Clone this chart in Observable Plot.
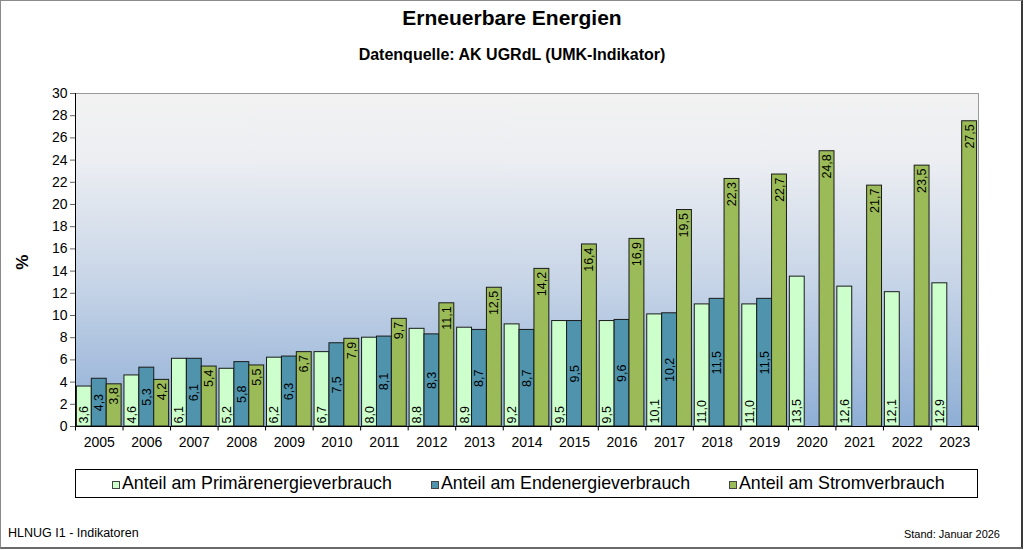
<!DOCTYPE html>
<html>
<head>
<meta charset="utf-8">
<script src="https://cdn.jsdelivr.net/npm/d3@7"></script>
<script src="https://cdn.jsdelivr.net/npm/@observablehq/plot@0.6"></script>
<style>
  html, body { margin: 0; padding: 0; background: #fff; }
  body { width: 1024px; height: 550px; position: relative; overflow: hidden; font-family: "Liberation Sans", Arial, sans-serif; }
  #frame { position: absolute; left: 0; top: 0; width: 1020px; height: 546px; border-top: 1px solid #8a8a8a; border-left: 1px solid #8a8a8a; border-right: 2px solid #3a3a3a; border-bottom: 2px solid #6a6a6a; box-sizing: content-box; pointer-events: none; }
  #title { position: absolute; left: 0; width: 1024px; top: 6px; text-align: center; font-weight: bold; font-size: 21px; color: #000; }
  #subtitle { position: absolute; left: 0; width: 1024px; top: 46px; text-align: center; font-weight: bold; font-size: 16px; color: #000; }
  #chart { position: absolute; left: 0; top: 0; }
  #legend { position: absolute; left: 75px; top: 469px; width: 901px; height: 27px; border: 1px solid #000; font-size: 17.8px; color: #000; }
  .item { display: flex; align-items: center; position: absolute; top: 3px; }
  .sw { width: 6px; height: 6px; border: 1px solid #444; margin-right: 2px; margin-top: 2px; }
  #left { position: absolute; left: 8px; top: 526px; font-size: 12.5px; }
  #right { position: absolute; right: 24px; top: 528px; font-size: 11px; }
</style>
</head>
<body>
<div id="chart"></div>
<div id="title">Erneuerbare Energien</div>
<div id="subtitle">Datenquelle: AK UGRdL (UMK-Indikator)</div>
<div id="legend"></div>
<div id="left">HLNUG I1 - Indikatoren</div>
<div id="right">Stand: Januar 2026</div>
<div id="frame"></div>
<script>
const years = [2005,2006,2007,2008,2009,2010,2011,2012,2013,2014,2015,2016,2017,2018,2019,2020,2021,2022,2023];
const primaer = [3.6,4.6,6.1,5.2,6.2,6.7,8.0,8.8,8.9,9.2,9.5,9.5,10.1,11.0,11.0,13.5,12.6,12.1,12.9];
const endenergie = [4.3,5.3,6.1,5.8,6.3,7.5,8.1,8.3,8.7,8.7,9.5,9.6,10.2,11.5,11.5,null,null,null,null];
const strom = [3.8,4.2,5.4,5.5,6.7,7.9,9.7,11.1,12.5,14.2,16.4,16.9,19.5,22.3,22.7,24.8,21.7,23.5,27.5];
const seriesNames = ["Anteil am Primärenergieverbrauch", "Anteil am Endenergieverbrauch", "Anteil am Stromverbrauch"];
const seriesColors = ["#ccffcc", "#4f93ad", "#9bbb59"];
const yTicks = d3.range(0, 31, 2);

const fmt = v => v.toFixed(1).replace(".", ",");
const groupPad = 0.03;
const barW = (1 - 2 * groupPad) / 3;
const rows = [];
[primaer, endenergie, strom].forEach((arr, s) => {
  arr.forEach((v, i) => {
    if (v == null) return;
    const x1 = i + groupPad + s * barW;
    rows.push({series: s, year: years[i], value: v, x1, x2: x1 + barW, xm: x1 + barW / 2, label: fmt(v)});
  });
});

const defs = () => {
  const svgNS = "http://www.w3.org/2000/svg";
  const d = document.createElementNS(svgNS, "defs");
  d.innerHTML = `<linearGradient id="bg" x1="0" y1="0" x2="0" y2="1">
    <stop offset="0" stop-color="#f2f2f2"/>
    <stop offset="0.2" stop-color="#eceef2"/>
    <stop offset="0.55" stop-color="#c9d6e8"/>
    <stop offset="1" stop-color="#8eaed5"/>
  </linearGradient>`;
  return d;
};

const chart = Plot.plot({
  width: 1024,
  height: 550,
  marginLeft: 75,
  marginRight: 46,
  marginTop: 93,
  marginBottom: 124,
  style: {fontFamily: "Liberation Sans, Arial, sans-serif", background: "transparent"},
  x: {type: "linear", domain: [0, years.length], axis: null},
  y: {domain: [0, 30], axis: null},
  marks: [
    defs,
    Plot.frame({fill: "url(#bg)", stroke: "#9a9a9a"}),
    Plot.rectY(rows, {x1: "x1", x2: "x2", y1: 0, y2: "value", fill: d => seriesColors[d.series], stroke: "#1a1a1a", strokeWidth: 1}),
    Plot.text(rows.filter(d => d.series === 0), {x: "xm", y: 0, text: "label", rotate: -90, textAnchor: "start", dy: -3, fontSize: 12.5, fill: "#000"}),
    Plot.text(rows.filter(d => d.series === 1), {x: "xm", y: d => d.value / 2, text: "label", rotate: -90, textAnchor: "middle", fontSize: 12.5, fill: "#000"}),
    Plot.text(rows.filter(d => d.series === 2), {x: "xm", y: "value", text: "label", rotate: -90, textAnchor: "end", dy: 3, fontSize: 12.5, fill: "#000"}),
    Plot.ruleX([0], {stroke: "#000"}),
    Plot.ruleY([0], {stroke: "#000"}),
    Plot.axisY(yTicks, {anchor: "left", label: null, tickSize: 5, tickPadding: 3, fontSize: 14, color: "#000", stroke: "#666", tickFormat: d => d}),
    Plot.ruleX(d3.range(0, years.length + 1), {x: d => d, y1: 0, y2: -0.4, stroke: "#000"}),
    Plot.text(years, {x: (d, i) => i + 0.5, y: 0, text: d => String(d), dy: 16, fontSize: 14, fill: "#000", lineAnchor: "middle"}),
    Plot.text(["%"], {x: 0, y: 14.8, dx: -53, rotate: -90, textAnchor: "middle", fontSize: 17, fontWeight: "bold", fill: "#000"})
  ]
});
document.getElementById("chart").appendChild(chart);

const legend = document.getElementById("legend");
const positions = [36, 355, 653];
seriesNames.forEach((n, i) => {
  const it = document.createElement("div");
  it.className = "item";
  it.style.left = positions[i] + "px";
  it.innerHTML = `<span class="sw" style="background:${seriesColors[i]}"></span><span>${n}</span>`;
  legend.appendChild(it);
});
</script>
</body>
</html>
